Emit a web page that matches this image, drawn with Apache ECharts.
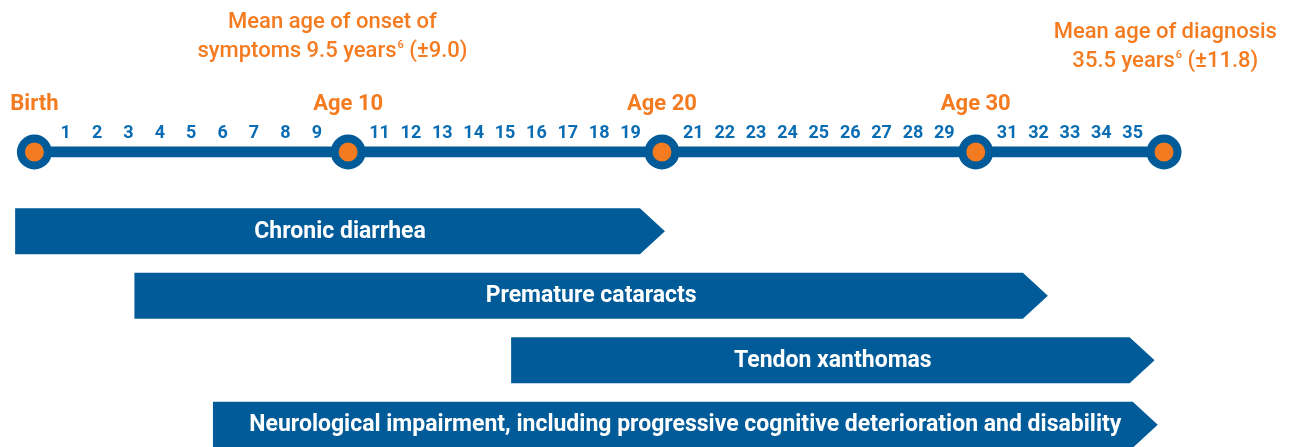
<!DOCTYPE html>
<html>
<head>
<meta charset="utf-8">
<script src="https://cdn.jsdelivr.net/npm/echarts@6/dist/echarts.min.js"></script>
<style>
  html, body { margin: 0; padding: 0; background: #fff; }
  #chart { width: 1298px; height: 447px; }
</style>
</head>
<body>
<div id="chart"></div>
<script>
// timeline
const milestoneAges = [0, 10, 20, 30, 36]
const milestoneLabels = ['Birth', 'Age 10', 'Age 20', 'Age 30', '']
const tickAges = [1, 2, 3, 4, 5, 6, 7, 8, 9, 11, 12, 13, 14, 15, 16, 17, 18, 19,
  21, 22, 23, 24, 25, 26, 27, 28, 29, 31, 32, 33, 34, 35]

// mean age notes
const meanAges = [9.5, 35.5]
const meanTitle = ['Mean age of onset of', 'Mean age of diagnosis']
const meanValue = ['symptoms 9.5 years', '35.5 years']
const meanRef = ['6', '6']
const meanSd = ['(±9.0)', '(±11.8)']

// symptom bars (age in years)
const barNames = ['Chronic diarrhea', 'Premature cataracts', 'Tendon xanthomas',
  'Neurological impairment, including progressive cognitive deterioration and disability']
const barStart = [-0.6, 3.2, 15.2, 5.7]
const barEnd = [20.1, 32.3, 35.7, 35.8]

const BLUE = '#005b98'
const TICK_BLUE = '#0a6db4'
const ORANGE = '#f47b20'
const FONT = 'Roboto'

const chart = echarts.init(document.getElementById('chart'))

const xAxisBase = {
  type: 'value',
  min: -1,
  max: 37,
  interval: 1,
  axisLine: { show: false },
  axisTick: { show: false },
  splitLine: { show: false }
}

// one label series per mean-age note
const noteOffsets = [[0, -86], [17, -76]]
const noteSeries = meanAges.map((a, i) => ({
  type: 'scatter',
  xAxisIndex: 0,
  yAxisIndex: 0,
  clip: false,
  symbolSize: 1,
  itemStyle: { color: 'rgba(255,255,255,0)' },
  data: [[a, 0]],
  label: {
    show: true,
    position: 'top',
    distance: 0,
    offset: noteOffsets[i],
    align: 'center',
    opacity: 1,
    textBorderWidth: 0,
    formatter: '{a|' + meanTitle[i] + '}\n{a|' + meanValue[i] + '}{s|' + meanRef[i] + '}{a| ' + meanSd[i] + '}',
    rich: {
      a: { color: ORANGE, fontFamily: FONT, fontWeight: 500, fontSize: 22, lineHeight: 29 },
      s: { color: ORANGE, fontFamily: FONT, fontWeight: 500, fontSize: 11, lineHeight: 29, verticalAlign: 'top', padding: [3, 0, 0, 1] }
    }
  },
  z: 4
}))

chart.setOption({
  animation: false,
  grid: [
    { left: 2.6, right: 102.6, top: 52, height: 100 },
    { left: 2.6, right: 102.6, top: 199, bottom: 0 }
  ],
  xAxis: [
    Object.assign({}, xAxisBase, {
      gridIndex: 0,
      axisLabel: {
        inside: true,
        margin: 10,
        color: TICK_BLUE,
        fontFamily: FONT,
        fontWeight: 'bold',
        fontSize: 18,
        formatter: v => tickAges.includes(v) ? String(v) : ''
      }
    }),
    Object.assign({}, xAxisBase, { gridIndex: 1, axisLabel: { show: false } })
  ],
  yAxis: [
    { type: 'value', gridIndex: 0, min: 0, max: 1, show: false },
    { type: 'value', gridIndex: 1, min: -0.5, max: 3.345, inverse: true, show: false }
  ],
  series: [
    {
      type: 'line',
      xAxisIndex: 0,
      yAxisIndex: 0,
      data: [[milestoneAges[0], 0], [milestoneAges[milestoneAges.length - 1], 0]],
      symbol: 'none',
      lineStyle: { color: BLUE, width: 11 },
      z: 2
    },
    {
      type: 'scatter',
      xAxisIndex: 0,
      yAxisIndex: 0,
      data: milestoneAges.map((a, i) => ({ value: [a, 0], name: milestoneLabels[i] })),
      symbolSize: 27,
      itemStyle: { color: ORANGE, borderColor: BLUE, borderWidth: 8, opacity: 1 },
      label: {
        show: true,
        position: 'inside',
        offset: [0, -48],
        formatter: p => p.name,
        color: ORANGE,
        fontFamily: FONT,
        fontWeight: 'bold',
        fontSize: 22
      },
      z: 3
    },
    ...noteSeries,
    {
      type: 'custom',
      xAxisIndex: 1,
      yAxisIndex: 1,
      data: barNames.map((n, i) => [barStart[i], barEnd[i], i]),
      encode: { x: [0, 1], y: 2 },
      renderItem: (params, api) => {
        const p0 = api.coord([api.value(0), api.value(2)])
        const p1 = api.coord([api.value(1), api.value(2)])
        const x0 = p0[0]
        const x1 = p1[0]
        const y = p0[1]
        const h = 46
        const tip = 25
        return {
          type: 'group',
          children: [
            {
              type: 'polygon',
              shape: {
                points: [[x0, y - h / 2], [x1 - tip, y - h / 2], [x1, y],
                  [x1 - tip, y + h / 2], [x0, y + h / 2]]
              },
              style: { fill: BLUE }
            },
            {
              type: 'text',
              style: {
                text: barNames[params.dataIndex],
                x: (x0 + x1) / 2,
                y: y + 1,
                align: 'center',
                verticalAlign: 'middle',
                fill: '#fff',
                font: 'bold 23px ' + FONT
              }
            }
          ]
        }
      }
    }
  ]
})
</script>
</body>
</html>
